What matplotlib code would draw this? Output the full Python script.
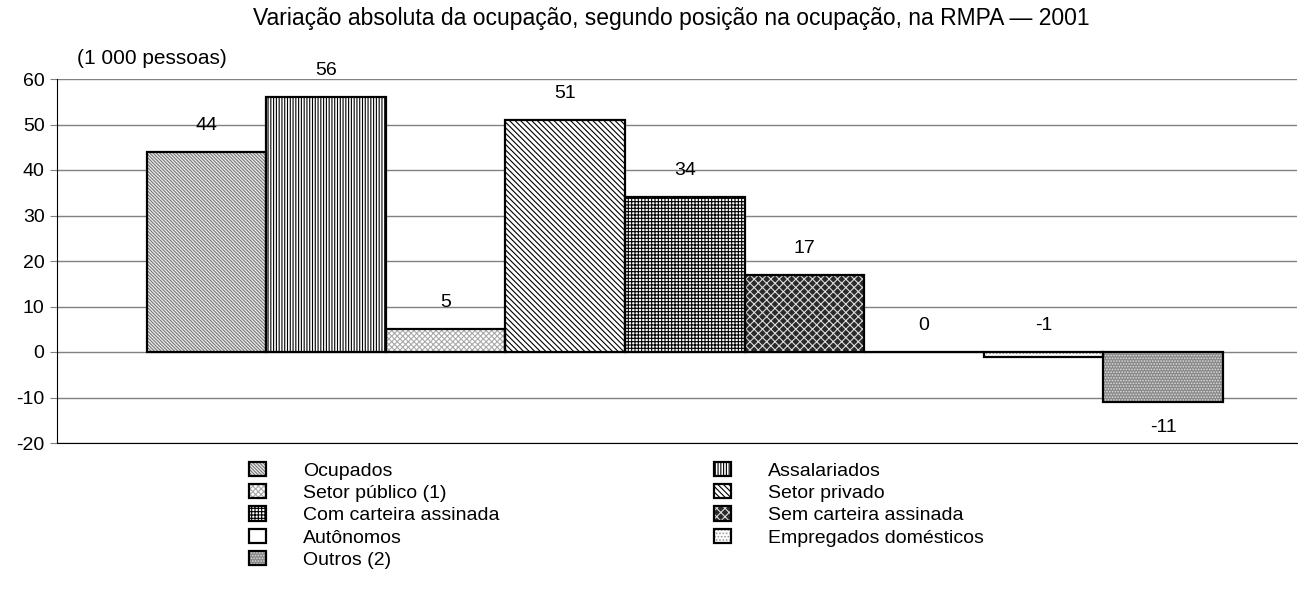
import matplotlib.pyplot as plt
from matplotlib.patches import Patch

plt.rcParams['font.family'] = ['Liberation Sans', 'DejaVu Sans']
plt.rcParams['hatch.linewidth'] = 0.8
plt.rcParams['axes.unicode_minus'] = False

categorias = ['Ocupados', 'Assalariados', 'Setor público (1)', 'Setor privado',
              'Com carteira assinada', 'Sem carteira assinada', 'Autônomos',
              'Empregados domésticos', 'Outros (2)']
valores = [44, 56, 5, 51, 34, 17, 0, -1, -11]

# fundo, cor da hachura, hachura
estilos = [
    ('#eeeeee', '#777777', '\\' * 10),
    ('white', 'black', '|' * 6),
    ('white', '#aaaaaa', 'x' * 6),
    ('white', 'black', '\\' * 6),
    ('white', 'black', '+' * 5),
    ('#2a2a2a', '#dddddd', 'x' * 4),
    ('white', 'white', ''),
    ('white', '#999999', '.' * 5),
    ('#888888', '#dddddd', '.' * 6),
]

fig = plt.figure(figsize=(12.98, 6.08), dpi=100)
ax = fig.add_axes([57 / 1298, 1 - 443 / 608, 1240 / 1298, 364 / 608])

x = list(range(len(valores)))
handles = []
for i, v in enumerate(valores):
    fc, hc, h = estilos[i]
    ax.bar(x[i], v, width=1, color=fc, edgecolor=hc, hatch=h, linewidth=0, zorder=2)
    ax.bar(x[i], v, width=1, fill=False, edgecolor='black', linewidth=1.6, zorder=3)
    handles.append((Patch(facecolor=fc, edgecolor=hc, hatch=h, linewidth=0),
                    Patch(fill=False, edgecolor='black', linewidth=1.6)))
    if v >= -5:
        ax.text(x[i], max(v, 0) + 5.8, str(v), ha='center', va='center', fontsize=14)
    else:
        ax.text(x[i], v - 5.5, str(v), ha='center', va='center', fontsize=14)

ax.set_xlim(-1.25, 9.12)
ax.set_ylim(-20, 60)
ax.set_yticks(range(-20, 61, 10))
ax.set_xticks([])
ax.yaxis.grid(True, color='#808080', linewidth=1)
ax.set_axisbelow(True)
ax.tick_params(axis='y', labelsize=14, length=5, color='#808080', pad=4)
for s in ['top', 'right']:
    ax.spines[s].set_visible(False)
ax.spines['left'].set_color('black')
ax.spines['bottom'].set_color('black')

fig.text(0.517, 1 - 18 / 608, 'Variação absoluta da ocupação, segundo posição na ocupação, na RMPA — 2001',
         ha='center', va='center', fontsize=16.5)
fig.text(77 / 1298, 1 - 58 / 608, '(1 000 pessoas)', ha='left', va='center', fontsize=15)

ordem = [0, 2, 4, 6, 8, 1, 3, 5, 7]
ax.legend([handles[i] for i in ordem], [categorias[i] for i in ordem],
          ncol=2, loc='upper left', bbox_to_anchor=(239 / 1298, 1 - 452 / 608),
          bbox_transform=fig.transFigure, frameon=False, fontsize=14,
          handlelength=0.9, handleheight=0.75, handletextpad=1.9,
          columnspacing=11.0, labelspacing=0.23, borderpad=0)

fig.savefig('out.png', dpi=100)
